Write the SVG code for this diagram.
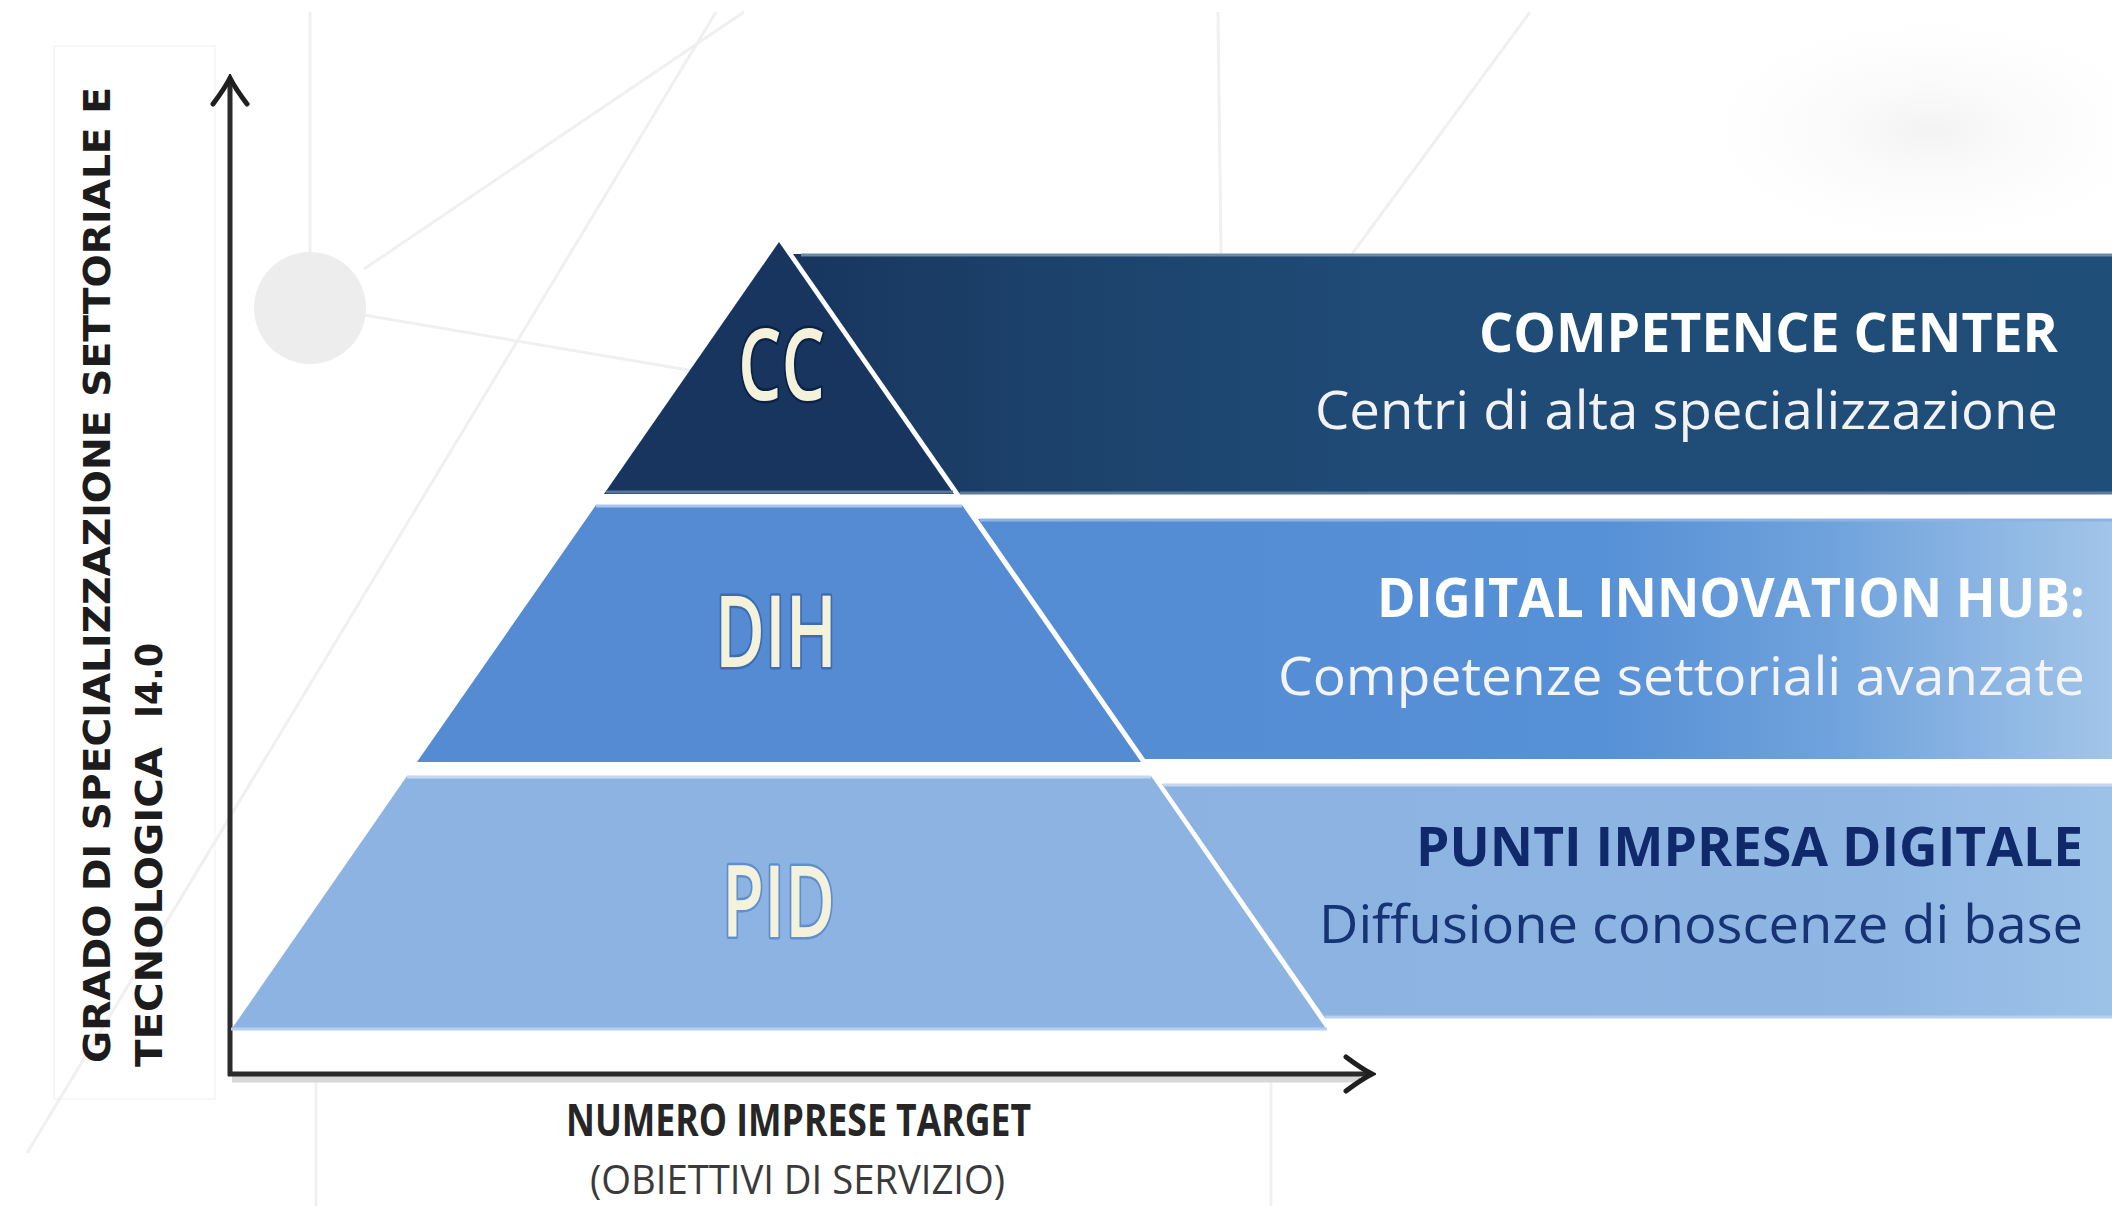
<svg xmlns="http://www.w3.org/2000/svg" width="2112" height="1206" viewBox="0 0 2112 1206">
  <defs>
    <style>
      .bgline { stroke: #f0f0f0; stroke-width: 3; fill: none; }
      .axis { stroke: #2b2b2b; stroke-width: 5; fill: none; }
      .axisShadow { stroke: #d8d8d8; stroke-width: 9; fill: none; }
      .ylab { font-family: "DejaVu Sans", "Liberation Sans", sans-serif; font-weight: bold; font-size: 38px; fill: #1c1c1c; }
      .xlab { font-family: "Open Sans", "Liberation Sans", sans-serif; }
      .plab { font-family: "Open Sans", "Liberation Sans", sans-serif; font-weight: 600; font-size: 100px; fill: #f4f2da; stroke-width: 5; paint-order: stroke; stroke-linejoin: round; }
      .btitle { font-family: "Open Sans", "Liberation Sans", sans-serif; font-weight: bold; font-size: 53px; }
      .bsub { font-family: "Open Sans", "Liberation Sans", sans-serif; font-size: 53px; }
    </style>
    <marker id="arrow" viewBox="-30 -20 34 40" refX="0" refY="0" markerWidth="34" markerHeight="40" markerUnits="userSpaceOnUse" orient="auto">
      <path d="M -26 -17 Q -10 -5 0 0 Q -10 5 -26 17" fill="none" stroke="#1f1f1f" stroke-width="5" stroke-linecap="round" stroke-linejoin="miter"/>
    </marker>
    <linearGradient id="gCC" x1="793" y1="0" x2="2112" y2="0" gradientUnits="userSpaceOnUse">
      <stop offset="0" stop-color="#18365f"/>
      <stop offset="0.2" stop-color="#1c426b"/>
      <stop offset="0.45" stop-color="#1f4b76"/>
      <stop offset="1" stop-color="#1f4e79"/>
    </linearGradient>
    <linearGradient id="gDIH" x1="978" y1="0" x2="2112" y2="0" gradientUnits="userSpaceOnUse">
      <stop offset="0" stop-color="#548cd3"/>
      <stop offset="0.55" stop-color="#5690d6"/>
      <stop offset="0.75" stop-color="#6fa2dc"/>
      <stop offset="1" stop-color="#a2c5e9"/>
    </linearGradient>
    <linearGradient id="gPID" x1="1162" y1="0" x2="2112" y2="0" gradientUnits="userSpaceOnUse">
      <stop offset="0" stop-color="#8cb2e1"/>
      <stop offset="0.75" stop-color="#8fb5e3"/>
      <stop offset="1" stop-color="#9dc2e8"/>
    </linearGradient>
    <radialGradient id="gSmudge" cx="0.5" cy="0.5" r="0.5">
      <stop offset="0" stop-color="#f3f3f3"/>
      <stop offset="1" stop-color="#ffffff" stop-opacity="0"/>
    </radialGradient>
  </defs>

  <rect width="2112" height="1206" fill="#ffffff"/>

  <g id="background">
    <ellipse cx="1930" cy="130" rx="260" ry="130" fill="url(#gSmudge)"/>
    <rect x="54" y="46" width="161" height="1053" fill="none" stroke="#f7f7f7" stroke-width="2"/>
    <line class="bgline" x1="310" y1="12" x2="310" y2="252"/>
    <line class="bgline" x1="364" y1="269" x2="744" y2="12"/>
    <line class="bgline" x1="364" y1="315" x2="700" y2="372"/>
    <line class="bgline" x1="716" y1="12" x2="27" y2="1153"/>
    <line class="bgline" x1="1218" y1="12" x2="1221" y2="254"/>
    <line class="bgline" x1="1530" y1="12" x2="1352" y2="254"/>
    <line class="bgline" x1="316" y1="1082" x2="316" y2="1206"/>
    <line class="bgline" x1="1271" y1="1082" x2="1271" y2="1206"/>
    <circle cx="310" cy="308" r="56" fill="#ededed"/>
  </g>

  <g id="connectors">
    <line class="axisShadow" x1="232" y1="1078" x2="1360" y2="1078"/>
    <line class="axis" x1="230" y1="1076" x2="230" y2="78" marker-end="url(#arrow)"/>
    <line class="axis" x1="228" y1="1074" x2="1372" y2="1074" marker-end="url(#arrow)"/>
  </g>

  <g id="y-axis-label">
    <text class="ylab" transform="translate(110,1063) rotate(-90)" x="0" y="0" textLength="976" lengthAdjust="spacingAndGlyphs">GRADO DI SPECIALIZZAZIONE SETTORIALE E</text>
    <text class="ylab" transform="translate(162,1067) rotate(-90)" y="0"><tspan x="0" textLength="320" lengthAdjust="spacingAndGlyphs">TECNOLOGICA</tspan><tspan x="349" textLength="75" lengthAdjust="spacingAndGlyphs">I4.0</tspan></text>
  </g>

  <g id="x-axis-label">
    <text class="xlab" x="566" y="1136" font-size="44" font-weight="bold" fill="#262626" textLength="465" lengthAdjust="spacingAndGlyphs">NUMERO IMPRESE TARGET</text>
    <text class="xlab" x="590" y="1194" font-size="40" fill="#3a3a3a" textLength="415" lengthAdjust="spacingAndGlyphs">(OBIETTIVI DI SERVIZIO)</text>
  </g>

  <g id="banner-cc">
    <polygon points="793,254 2112,254 2112,494 960,494" fill="url(#gCC)"/>
    <line x1="801" y1="255" x2="2112" y2="255" stroke="#6f88a6" stroke-width="3"/>
    <line x1="960" y1="493" x2="2112" y2="493" stroke="#5d7a9b" stroke-width="3"/>
    <text class="btitle" x="1479" y="352" fill="#ffffff" textLength="579" lengthAdjust="spacingAndGlyphs">COMPETENCE CENTER</text>
    <text class="bsub" x="1315" y="429" fill="#f2f2f2" textLength="743" lengthAdjust="spacingAndGlyphs">Centri di alta specializzazione</text>
  </g>

  <g id="banner-dih">
    <polygon points="978,519 2112,519 2112,759 1145,759" fill="url(#gDIH)"/>
    <line x1="980" y1="520" x2="2112" y2="520" stroke="#8db3e4" stroke-width="3"/>
    <text class="btitle" x="1377" y="617" fill="#ffffff" textLength="708" lengthAdjust="spacingAndGlyphs">DIGITAL INNOVATION HUB:</text>
    <text class="bsub" x="1278" y="695" fill="#f4f4f4" textLength="807" lengthAdjust="spacingAndGlyphs">Competenze settoriali avanzate</text>
  </g>

  <g id="banner-pid">
    <polygon points="1162,784 2112,784 2112,1018 1325,1018" fill="url(#gPID)"/>
    <line x1="1163" y1="785" x2="2112" y2="785" stroke="#c3d7f0" stroke-width="3"/>
    <line x1="1325" y1="1017" x2="2112" y2="1017" stroke="#b6cff0" stroke-width="3"/>
    <text class="btitle" x="1416" y="866" fill="#10296a" textLength="667" lengthAdjust="spacingAndGlyphs">PUNTI IMPRESA DIGITALE</text>
    <text class="bsub" x="1319" y="943" fill="#163474" textLength="764" lengthAdjust="spacingAndGlyphs">Diffusione conoscenze di base</text>
  </g>

  <g id="level-cc">
    <polygon points="779,242 954,494 604,494" fill="#17355e"/>
    <line x1="606" y1="492" x2="953" y2="492" stroke="#5b7697" stroke-width="3"/>
    <text class="plab" x="738" y="400" stroke="#0b2246" textLength="87" lengthAdjust="spacingAndGlyphs">CC</text>
  </g>

  <g id="level-dih">
    <polygon points="596,505 962,505 1141,762 417,762" fill="#548bd3"/>
    <line x1="596" y1="506" x2="962" y2="506" stroke="#a9c6ec" stroke-width="3"/>
    <text class="plab" x="715" y="667" stroke="#3c6db4" textLength="122" lengthAdjust="spacingAndGlyphs">DIH</text>
  </g>

  <g id="level-pid">
    <polygon points="407,776 1151,776 1327,1030 231,1030" fill="#8db3e2"/>
    <line x1="407" y1="777" x2="1151" y2="777" stroke="#c4d8f1" stroke-width="3"/>
    <line x1="231" y1="1029" x2="1327" y2="1029" stroke="#b6cff0" stroke-width="3"/>
    <text class="plab" x="722" y="937" stroke="#5f8fd0" textLength="113" lengthAdjust="spacingAndGlyphs">PID</text>
  </g>
</svg>
